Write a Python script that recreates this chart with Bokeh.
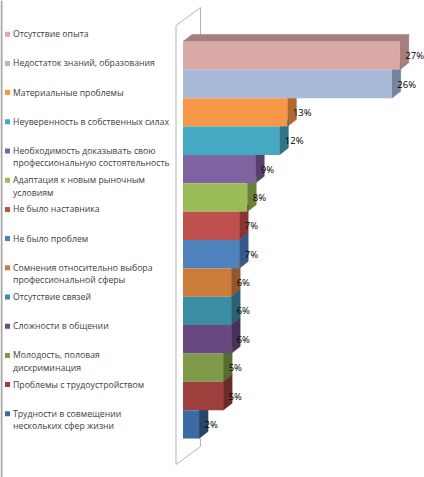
from bokeh.plotting import figure
from bokeh.models import Range1d
from bokeh.core.properties import value
from bokeh.embed import file_html
from bokeh.resources import INLINE

categories = [
    ["Отсутствие опыта"],
    ["Недостаток знаний, образования"],
    ["Материальные проблемы"],
    ["Неуверенность в собственных силах"],
    ["Необходимость доказывать свою", "профессиональную состоятельность"],
    ["Адаптация  к новым рыночным", "условиям"],
    ["Не было наставника"],
    ["Не было проблем"],
    ["Сомнения относительно выбора", "профессиональной сферы"],
    ["Отсутствие связей"],
    ["Сложности в общении"],
    ["Молодость, половая", "дискриминация"],
    ["Проблемы с трудоустройством"],
    ["Трудности в совмещении", "нескольких сфер жизни"],
]
values = [27, 26, 13, 12, 9, 8, 7, 7, 6, 6, 6, 5, 5, 2]
face_colors = ["#D9A9A6", "#A9B9D8", "#F79646", "#45A9C4", "#8064A2", "#9BBB59", "#C0504D",
               "#4F81BD", "#CC7B38", "#3C8DA3", "#68487F", "#7F9A48", "#9D3F3C", "#3B6BA0"]
side_colors = ["#A67F7C", "#75849F", "#B0692F", "#2F7488", "#574070", "#6B8139", "#8A3432",
               "#33598A", "#92562A", "#2A6273", "#4A3059", "#586C32", "#6E2A29", "#26456B"]
top_color = "#A67F7C"

W, H = 424, 477
PX_X = 8.03    # px per percent
PX_Y = 28.36   # px per bar slot
X0, Y0 = 182.5, 41  # pixel position of the value axis origin / first bar top
DX, DY = 9, 7     # 3D depth in px


def dx(px):
    return (px - X0) / PX_X


def dy(px):
    return (px - Y0) / PX_Y


p = figure(width=W, height=H, output_backend="svg", toolbar_location=None,
           x_range=Range1d(dx(0), dx(W)), y_range=Range1d(dy(H), dy(0)),
           min_border=0, outline_line_color=None, background_fill_color="white")
p.axis.visible = False
p.grid.visible = False

# wall
p.line([dx(1)] * 2, [dy(0), dy(H)], line_color="#A8A8A8", line_width=2)
p.line([dx(200), dx(175.5), dx(175.5), dx(200), dx(200)],
       [dy(7), dy(25), dy(464), dy(446), dy(438)], line_color="#B4B4B4", line_width=1)
p.line([dx(200), dx(200)], [dy(7), dy(34)], line_color="#B4B4B4", line_width=1)

n = len(values)
d = DX / PX_X
e = DY / PX_Y
tops = list(range(n))
bottoms = [t + 1 for t in tops]

# side faces
p.patches([[v, v + d, v + d, v] for v in values],
          [[t, t - e, b - e, b] for t, b in zip(tops, bottoms)],
          fill_color=side_colors, line_color=side_colors, line_width=0.5)
# top face of first bar
p.patch([0, d, values[0] + d, values[0]], [0, -e, -e, 0], fill_color=top_color,
        line_color=top_color, line_width=0.5)
# front faces
p.quad(left=[0] * n, right=values, top=tops, bottom=bottoms, fill_color=face_colors,
       line_color=None)

# value labels
p.text([v + 5.5 / PX_X for v in values], [t + 0.5 for t in tops],
       text=[f"{v}%" for v in values], text_font=value("Open Sans"), text_font_size="9.5px",
       text_color="#000000", text_baseline="middle", text_align="left")

# legend
LEG_Y0, LEG_STEP, LEG_LINE = 33.7, 29.2, 12.4
leg_y = [LEG_Y0 + LEG_STEP * i for i in range(n)]
p.scatter([dx(7)] * n, [dy(y) for y in leg_y], marker="square", size=5,
          fill_color=face_colors, line_color=None)
tx, ty, tt = [], [], []
for y, lines in zip(leg_y, categories):
    for j, s in enumerate(lines):
        tx.append(dx(12.5))
        ty.append(dy(y + j * LEG_LINE))
        tt.append(s)
p.text(tx, ty, text=tt, text_font=value("Open Sans"), text_font_size="8.7px",
       text_color="#404040", text_baseline="middle", text_align="left")

open("out.html", "w").write(file_html(p, INLINE))
